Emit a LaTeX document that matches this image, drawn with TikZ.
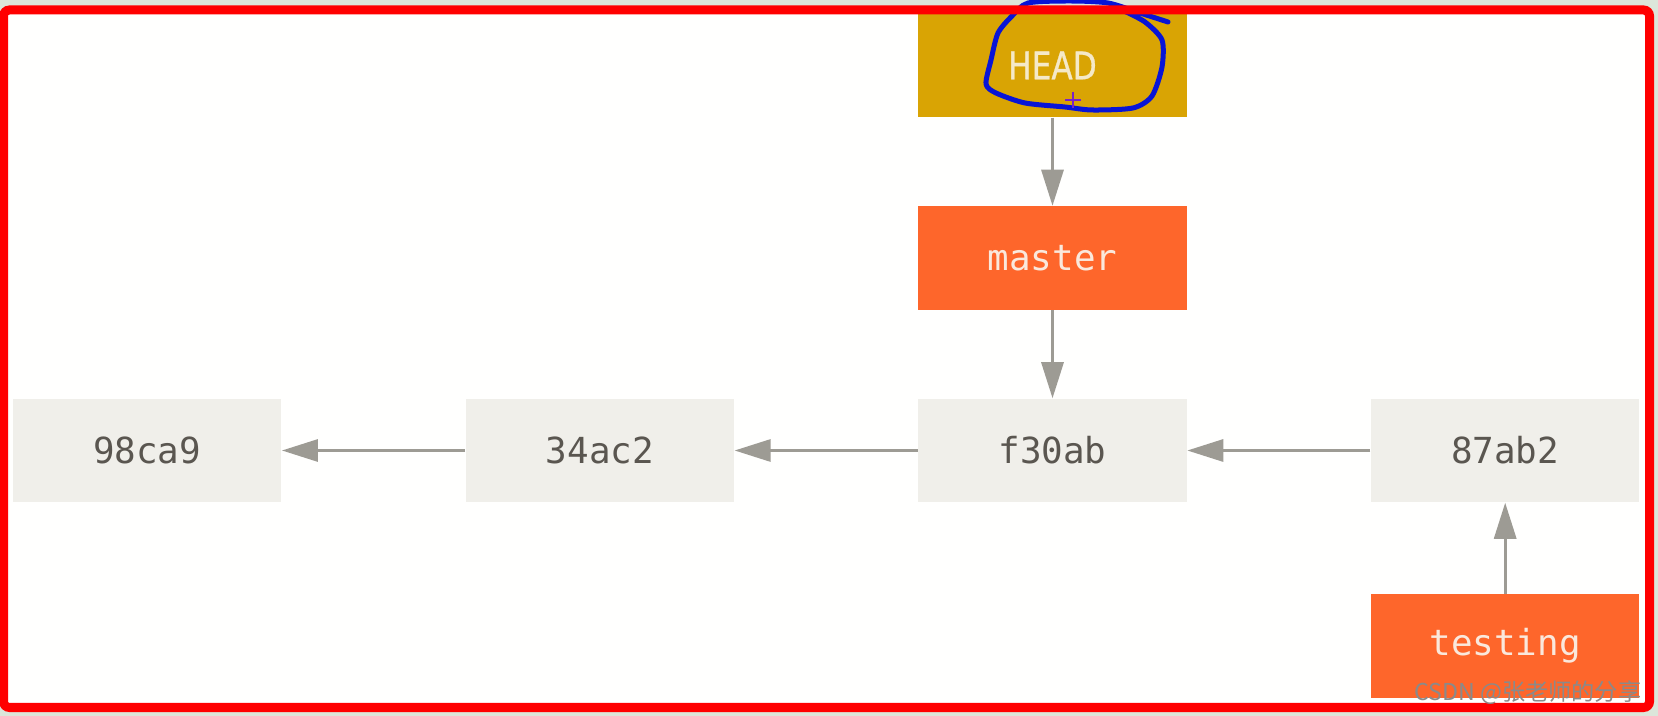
\documentclass[tikz,border=0pt]{standalone}
\usepackage{fontspec}
\setmonofont{DejaVu Sans Mono}
\newfontfamily\headfont[FakeStretch=0.82, FakeBold=0.8]{DejaVu Sans}
\newfontfamily\cjkfont{Noto Sans CJK SC}
\usepackage{xcolor}
\usepackage{tikz}
\usetikzlibrary{arrows.meta}
\usetikzlibrary{positioning}
\definecolor{headgold}{HTML}{D9A404}
\definecolor{branchorange}{HTML}{FE662B}
\definecolor{commitgray}{HTML}{F0EFEA}
\definecolor{committext}{HTML}{5A5650}
\definecolor{branchtext}{HTML}{FAE8DC}
\definecolor{headtext}{HTML}{F5E9C8}
\definecolor{arrowgray}{HTML}{9D9B94}
\definecolor{penblue}{HTML}{0814D6}
\definecolor{penpurple}{HTML}{7A22C8}
\definecolor{outside}{HTML}{DCE6DA}
\definecolor{markgray}{HTML}{8A8A8A}

\begin{document}
\begin{tikzpicture}[
x=0.01cm, y=-0.01cm,
CommitBox/.style={fill=commitgray, text=committext, minimum width=2.68cm, minimum height=1.03cm, inner sep=0pt, font=\ttfamily\fontsize{10.2}{12}\selectfont},
BranchBox/.style={CommitBox, fill=branchorange, text=branchtext},
HeadBox/.style={CommitBox, fill=headgold, text=headtext, font=\headfont\fontsize{10.8}{12}\selectfont},
Pointer/.style={draw=arrowgray, line width=0.03cm, -{Triangle[length=3.6mm, width=2.2mm]}},
Scribble/.style={draw=penblue, line width=0.05cm, line join=round, line cap=round}
]
\useasboundingbox (0,0) rectangle (1658,716);
\fill[outside] (0,0) rectangle (1658,716);
\fill[white!98!commitgray] (3.5,10) rectangle (1649.5,707.5);

% commits
\node[CommitBox] (f30ab) at (1052.5,450.5) {f30ab};
\node[CommitBox, left=1.83cm of f30ab] (34ac2) {34ac2};
\node[CommitBox, left=1.83cm of 34ac2] (98ca9) {98ca9};
\node[CommitBox, right=1.83cm of f30ab] (87ab2) {87ab2};

% branches and HEAD
\node[BranchBox, above=0.88cm of f30ab] (master) {master};
\node[HeadBox, above=0.88cm of master] (HEAD) {HEAD};
\node[BranchBox, below=0.91cm of 87ab2] (testing) {testing};

\draw[Pointer] (87ab2) -- (f30ab);
\draw[Pointer] (f30ab) -- (34ac2);
\draw[Pointer] (34ac2) -- (98ca9);
\draw[Pointer] (HEAD) -- (master);
\draw[Pointer] (master) -- (f30ab);
\draw[Pointer] (testing) -- (87ab2);

% pen marks
\draw[Scribble] plot[smooth, tension=0.45] coordinates {(1168,22) (1140,13) (1108,3) (1070,1) (1028,3) (1012,16) (998,33) (991,60) (986,84) (996,93) (1025,103) (1065,107) (1092,110) (1133,108) (1152,96) (1162,67) (1162,40) (1145,22) (1122,10)};
\draw[penpurple, line width=0.025cm] (1065,100) -- (1081,100) (1073,92) -- (1073,108);

\draw[red, line width=0.09cm, rounded corners=0.06cm] (3.5,10) rectangle (1649.5,707.5);

\node[font=\cjkfont\fontsize{6.6}{8}\selectfont, text=markgray, anchor=east, inner sep=0pt] (mark) at (1642,693) {CSDN @张老师的分享};
\end{tikzpicture}
\end{document}
